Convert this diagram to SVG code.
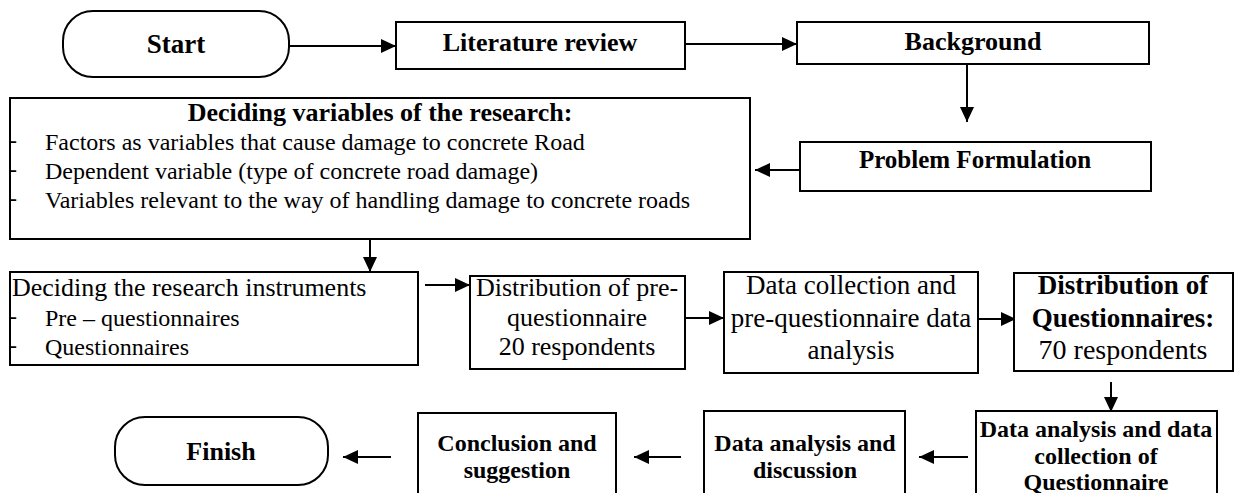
<svg xmlns="http://www.w3.org/2000/svg" width="1234" height="493" viewBox="0 0 1234 493">
<defs>
<marker id="ah" markerUnits="userSpaceOnUse" markerWidth="16" markerHeight="16" refX="15" refY="7" orient="auto">
<path d="M0,0 L15,7 L0,14 z" fill="#000"/>
</marker>
<style>
.box{fill:#fff;stroke:#000;stroke-width:2}
.t{font-family:"Liberation Serif","Times New Roman",serif;fill:#000}
.b{font-weight:bold}
.c{text-anchor:middle}
.ln{stroke:#000;stroke-width:2;fill:none;marker-end:url(#ah)}
</style>
</defs>
<rect width="1234" height="493" fill="#fff"/>
<g id="connectors">
<line class="ln" x1="289" y1="46" x2="396" y2="46"/>
<line class="ln" x1="685" y1="44" x2="797" y2="44"/>
<line class="ln" x1="967" y1="64" x2="967" y2="122"/>
<line class="ln" x1="800" y1="170" x2="755" y2="170"/>
<line class="ln" x1="370" y1="239" x2="370" y2="272"/>
<line class="ln" x1="425" y1="285" x2="470" y2="285"/>
<line class="ln" x1="685" y1="318" x2="724" y2="318"/>
<line class="ln" x1="978" y1="319" x2="1016" y2="319"/>
<line class="ln" x1="1111" y1="382" x2="1111" y2="412"/>
<line class="ln" x1="968" y1="457" x2="919" y2="457"/>
<line class="ln" x1="681" y1="457" x2="634" y2="457"/>
<line class="ln" x1="391" y1="457" x2="343" y2="457"/>
</g>
<g id="start">
<rect class="box" x="63" y="11" width="226" height="66" rx="30" ry="30"/>
<text class="t b c" x="176" y="53" font-size="27">Start</text>
</g>
<g id="literature">
<rect class="box" x="396" y="22" width="289" height="47"/>
<text class="t b c" x="540" y="51" font-size="26">Literature review</text>
</g>
<g id="background">
<rect class="box" x="797" y="22" width="352" height="42"/>
<text class="t b c" x="973" y="50" font-size="26">Background</text>
</g>
<g id="problem">
<rect class="box" x="800" y="142" width="351" height="49"/>
<text class="t b c" x="975" y="168" font-size="25">Problem Formulation</text>
</g>
<g id="variables">
<rect class="box" x="10" y="98" width="740" height="141"/>
<text class="t b c" x="380" y="121" font-size="26">Deciding variables of the research:</text>
<text class="t" x="9" y="148" font-size="24">-</text>
<text class="t" x="45" y="150" font-size="24">Factors as variables that cause damage to concrete Road</text>
<text class="t" x="9" y="177" font-size="24">-</text>
<text class="t" x="45" y="179" font-size="24">Dependent variable (type of concrete road damage)</text>
<text class="t" x="9" y="206" font-size="24">-</text>
<text class="t" x="45" y="208" font-size="24">Variables relevant to the way of handling damage to concrete roads</text>
</g>
<g id="instruments">
<rect class="box" x="10" y="272" width="408" height="93"/>
<text class="t" x="12" y="296" font-size="26">Deciding the research instruments</text>
<text class="t" x="9" y="324" font-size="24">-</text>
<text class="t" x="45" y="326" font-size="24">Pre – questionnaires</text>
<text class="t" x="9" y="353" font-size="24">-</text>
<text class="t" x="45" y="355" font-size="24">Questionnaires</text>
</g>
<g id="prequestionnaire">
<rect class="box" x="470" y="276" width="215" height="93"/>
<text class="t c" x="577" y="296" font-size="26">Distribution of pre-</text>
<text class="t c" x="577" y="326" font-size="26">questionnaire</text>
<text class="t c" x="577" y="355" font-size="26">20 respondents</text>
</g>
<g id="datacollection">
<rect class="box" x="724" y="272" width="254" height="101"/>
<text class="t c" x="851" y="294" font-size="27">Data collection and</text>
<text class="t c" x="851" y="327" font-size="27">pre-questionnaire data</text>
<text class="t c" x="851" y="359" font-size="27">analysis</text>
</g>
<g id="distribution">
<rect class="box" x="1014" y="273" width="219" height="98"/>
<text class="t b c" x="1123" y="294" font-size="27">Distribution of</text>
<text class="t b c" x="1123" y="327" font-size="27">Questionnaires:</text>
<text class="t c" x="1123" y="359" font-size="28">70 respondents</text>
</g>
<g id="analysiscollection">
<rect class="box" x="976" y="411" width="241" height="90"/>
<text class="t b c" x="1096" y="437" font-size="24">Data analysis and data</text>
<text class="t b c" x="1096" y="464" font-size="24">collection of</text>
<text class="t b c" x="1096" y="490" font-size="24">Questionnaire</text>
</g>
<g id="discussion">
<rect class="box" x="704" y="411" width="201" height="90"/>
<text class="t b c" x="805" y="451" font-size="24">Data analysis and</text>
<text class="t b c" x="805" y="478" font-size="24">discussion</text>
</g>
<g id="conclusion">
<rect class="box" x="418" y="413" width="198" height="88"/>
<text class="t b c" x="517" y="451" font-size="24">Conclusion and</text>
<text class="t b c" x="517" y="478" font-size="24">suggestion</text>
</g>
<g id="finish">
<rect class="box" x="115" y="417" width="213" height="68" rx="30" ry="30"/>
<text class="t b c" x="221" y="460" font-size="26">Finish</text>
</g>
</svg>
